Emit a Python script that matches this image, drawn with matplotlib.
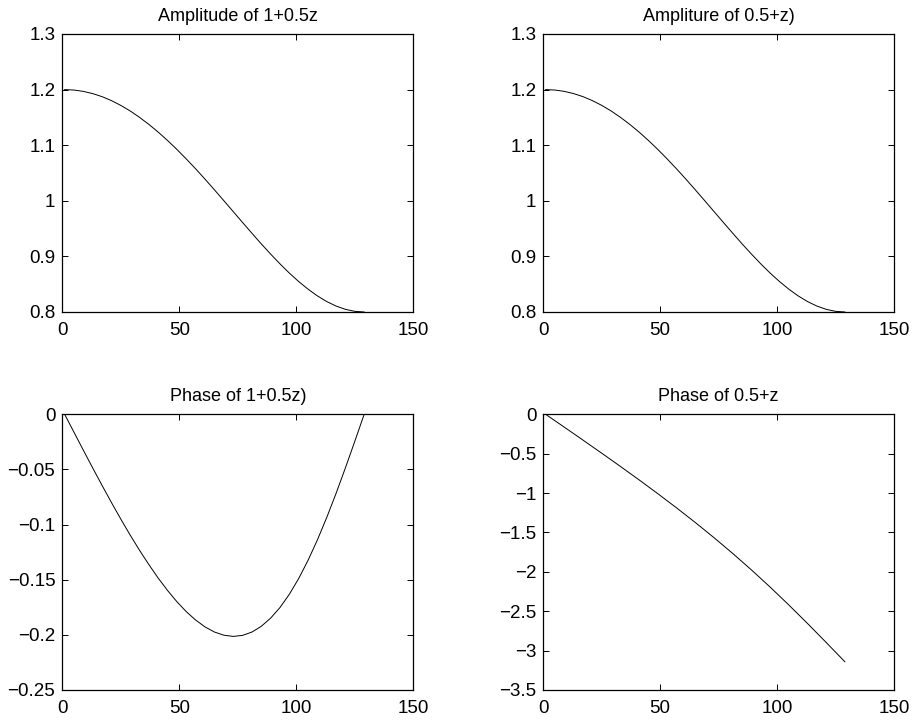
import numpy as np
import matplotlib
matplotlib.use('Agg')
import matplotlib.pyplot as plt
from matplotlib.ticker import FuncFormatter

plt.rcParams['font.family'] = ['Liberation Sans', 'DejaVu Sans']
plt.rcParams['font.size'] = 10

# sample index (MATLAB style, 1..129)
x_fine = np.arange(1, 130, 4)
x_coarse = np.arange(1, 130, 8)

amp = [1.2000, 1.1992, 1.1968, 1.1928, 1.1873, 1.1802, 1.1716, 1.1616,
       1.1501, 1.1374, 1.1235, 1.1084, 1.0923, 1.0752, 1.0574, 1.0389,
       1.0198, 1.0004, 0.9808, 0.9612, 0.9418, 0.9227, 0.9043, 0.8867,
       0.8701, 0.8549, 0.8411, 0.8290, 0.8188, 0.8107, 0.8048, 0.8012,
       0.8000]

phase1 = [0.0, -0.0163, -0.0326, -0.0487, -0.0645, -0.0800, -0.0950, -0.1095,
          -0.1233, -0.1363, -0.1486, -0.1598, -0.1700, -0.1790, -0.1866, -0.1928,
          -0.1974, -0.2003, -0.2014, -0.2005, -0.1975, -0.1923, -0.1849, -0.1753,
          -0.1633, -0.1490, -0.1325, -0.1140, -0.0936, -0.0717, -0.0485, -0.0245,
          0.0]

phase2 = [0.0, -0.1637, -0.3282, -0.4941, -0.6621, -0.8332, -1.0081, -1.1879,
          -1.3734, -1.5658, -1.7660, -1.9749, -2.1929, -2.4201, -2.6553, -2.8967,
          -3.1416]

titles = ['Amplitude of 1+0.5z', 'Ampliture of 0.5+z)',
          'Phase of 1+0.5z)', 'Phase of 0.5+z']


def fmt(v, pos):
    s = '%g' % (round(v, 3) + 0.0)
    if s == '-0':
        s = '0'
    return s.replace('-', '\u2212')


fig = plt.figure(figsize=(9.13, 7.2), dpi=100)
W, H = 913, 720
boxes = [(62.3, 34, 413.3, 312), (543.3, 34, 894, 312),
         (62.3, 414.3, 413.3, 690), (543.3, 414.3, 894, 690)]
axes = [fig.add_axes([l / W, 1 - b / H, (r - l) / W, (b - t) / H])
        for (l, t, r, b) in boxes]

axes[0].plot(x_fine, amp, color='black', lw=0.7)
axes[1].plot(x_fine, amp, color='black', lw=0.7)
axes[2].plot(x_fine, phase1, color='black', lw=0.7)
axes[3].plot(x_coarse, phase2, color='black', lw=0.7)

ylims = [(0.8, 1.3), (0.8, 1.3), (-0.25, 0), (-3.5, 0)]
yticks = [np.arange(0.8, 1.31, 0.1), np.arange(0.8, 1.31, 0.1),
          np.arange(-0.25, 0.001, 0.05), np.arange(-3.5, 0.01, 0.5)]

for ax, title, yl, yt in zip(axes, titles, ylims, yticks):
    ax.set_xlim(0, 150)
    ax.set_ylim(*yl)
    ax.set_xticks([0, 50, 100, 150])
    ax.set_yticks(np.round(yt, 2) + 0.0)
    ax.yaxis.set_major_formatter(FuncFormatter(fmt))
    ax.tick_params(direction='in', top=True, right=True, length=4,
                   width=0.7, labelsize=13.5)
    ax.tick_params(axis='x', pad=7)
    ax.tick_params(axis='y', pad=5)
    for sp in ax.spines.values():
        sp.set_linewidth(0.9)
    ax.set_title(title, fontsize=13, pad=9.5)

plt.savefig('out.png', dpi=100)
